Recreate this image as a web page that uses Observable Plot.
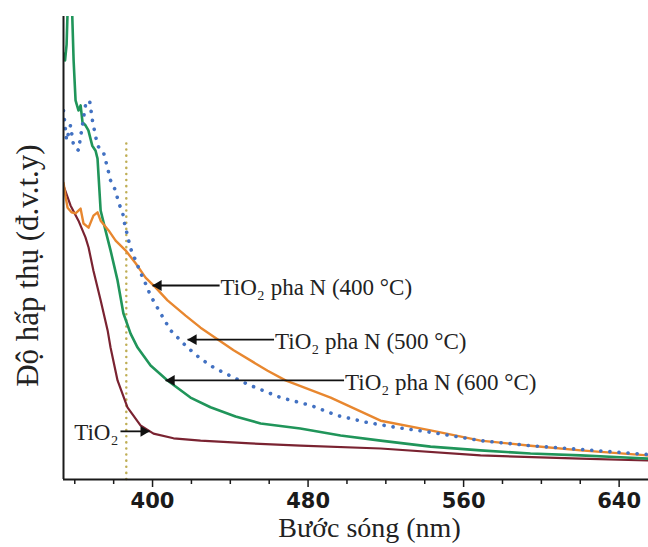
<!DOCTYPE html>
<html>
<head>
<meta charset="utf-8">
<script src="https://cdn.jsdelivr.net/npm/d3@7"></script>
<script src="https://cdn.jsdelivr.net/npm/@observablehq/plot@0.6"></script>
<style>
  html, body { margin: 0; padding: 0; background: #fff; }
  #chart svg { display: block; }
</style>
</head>
<body>
<div id="chart"></div>
<script>
// Wavelength (nm) / absorbance (arbitrary units, 0–100)
const green600 = [
  [354.3, 92], [355, 90.5], [355.8, 94], [356.5, 104], [357.5, 110], [358.5, 103],
  [359.4, 90.5], [360.4, 81.9], [361.9, 79.7], [363, 80.8], [364, 77.1], [365.5, 76.5],
  [367, 75.4], [369, 72.1], [370.7, 71], [371.7, 69.3], [373.3, 58.1], [375.8, 53.8],
  [378.4, 49.5], [382, 43], [385, 35.9], [388.7, 31.5], [392.3, 28.5], [399, 24.6],
  [407.7, 21.4], [419.5, 17.7], [429.8, 15.6], [442.7, 13.6], [455.6, 12.1], [476, 11],
  [496.7, 9.5], [517.3, 8.4], [543, 7.1], [568.7, 6.3], [594.4, 5.6], [620, 5.2],
  [640.7, 4.8], [655, 4.5]
];
const orange400 = [
  [354.2, 64.1], [355.2, 61.3], [356.3, 58.7], [358.3, 57.7], [360.4, 57.5], [363, 58.5],
  [364.5, 55.3], [367.1, 54.4], [369.6, 57], [371.7, 57.7], [373.3, 55.9], [377.4, 53.8],
  [381, 51.6], [386.1, 49.5], [391.3, 46.7], [396.4, 43.6], [401.5, 41.5], [407.7, 38.7],
  [417, 35.4], [424.7, 32.8], [441.7, 27.9], [459.2, 23.5], [468.4, 21.4], [491.6, 17.7],
  [517.3, 12.7], [543, 10.6], [568.7, 8.4], [594.4, 7.3], [620.2, 6.3], [654.6, 5.2]
];
const blue500 = [
  [354.2, 79.7], [355.8, 73.2], [357.8, 76.5], [359.4, 72.1], [361.9, 71.1], [365.5, 80.8],
  [367.6, 81.9], [369.1, 77.5], [371.7, 72.1], [374.8, 70.6], [376.9, 67.2], [378.4, 64.6],
  [381, 62.4], [382.5, 59.8], [384.6, 57.7], [385.6, 55.3], [387.1, 52.7], [388.7, 49.9],
  [391.3, 47.3], [393.8, 44.7], [396.4, 42.3], [399, 39.7], [404.1, 35.9], [409.3, 32.2],
  [418, 28.5], [424.7, 26.1], [431.4, 24.2], [442.7, 21.8], [450.4, 20.3], [458.1, 19],
  [465.8, 17.7], [481.3, 16], [495.2, 13.8], [510.6, 12.3], [526, 11.2], [543, 10.2],
  [568.7, 8.4], [594.4, 7.3], [620.2, 6.5], [654.6, 5.4]
];
const red_TiO2 = [
  [354.2, 63.5], [357.8, 59.2], [361.9, 55.9], [365.5, 52.3], [367.1, 50.1], [369.6, 45.1],
  [373.3, 38.7], [376.9, 32.2], [378.4, 28.5], [382, 21.4], [387.1, 15.6], [393.8, 11.7],
  [400.5, 9.9], [410.8, 8.9], [424.7, 8.4], [450.4, 7.8], [476.1, 7.3], [517.3, 6.7],
  [568.7, 5.2], [620.2, 4.5], [654.6, 4.1]
];
const edgeLine = 386.5;             // vertical dotted marker (nm)
const edgeTop = 73;                 // top of the marker (a.u.)
const majorTicks = [400, 480, 560, 640];
const minorTicks = [360, 380, 420, 440, 460, 500, 520, 540, 580, 600, 620];

// annotations: label, label x (nm), y (a.u.), arrow tip x (nm)
const annLabels = ["TiO\u2082 pha N (400 °C)", "TiO\u2082 pha N (500 °C)", "TiO\u2082 pha N (600 °C)"];
const annTail = [434.5, 462.5, 498.5];
const annY = [41.9, 30.2, 21.4];
const annTip = [400, 418, 406.7];
const tioLabel = "TiO\u2082";
const tioTail = 383.5, tioTip = 398.5, tioY = 10.4;

const xLabel = "Bước sóng (nm)";
const yLabel = "Độ hấp thụ (đ.v.t.y)";

const xDomain = [354.2, 655.1];
const serif = "'Liberation Serif', 'Times New Roman', serif";

const ann = annLabels.map((t, i) => ({t, tail: annTail[i], y: annY[i], tip: annTip[i]}));

const chart = Plot.plot({
  width: 648,
  height: 547,
  marginLeft: 63,
  marginRight: 0,
  marginTop: 16,
  marginBottom: 68,
  style: {background: "#fff", overflow: "visible"},
  x: {domain: xDomain, axis: null},
  y: {domain: [0, 100], axis: null},
  marks: [
    // vertical dotted line
    Plot.ruleX([edgeLine], {y1: 0, y2: edgeTop, stroke: "#bfae55", strokeWidth: 2.5, strokeDasharray: "0.1 6", strokeLinecap: "round"}),
    Plot.line(red_TiO2, {x: d => d[0], y: d => d[1], stroke: "#7a2331", strokeWidth: 2.2, clip: true}),
    Plot.line(green600, {x: d => d[0], y: d => d[1], stroke: "#20955a", strokeWidth: 2.6, clip: true}),
    Plot.line(orange400, {x: d => d[0], y: d => d[1], stroke: "#e8872f", strokeWidth: 2.4, clip: true}),
    Plot.line(blue500, {x: d => d[0], y: d => d[1], stroke: "#4271c2", strokeWidth: 3.6, strokeDasharray: "0.1 9", strokeLinecap: "round", clip: true}),
    // axes lines
    Plot.ruleY([0], {stroke: "#1a1a1a", strokeWidth: 2}),
    Plot.ruleX([xDomain[0]], {y1: 0, y2: 100, stroke: "#1a1a1a", strokeWidth: 2}),
    Plot.axisX({ticks: majorTicks, tickSize: 8, tickPadding: 6, tickFormat: d => String(d), label: null,
      fontSize: 21, fontFamily: "'DejaVu Sans', sans-serif", fontWeight: "bold", stroke: "#1a1a1a", strokeWidth: 1.5, fill: "#1a1a1a"}),
    Plot.axisX({ticks: minorTicks, tickSize: 5, tickFormat: () => "", label: null, stroke: "#1a1a1a", strokeWidth: 1.5}),
    // annotations
    Plot.link(ann, {x1: "tail", x2: "tip", y1: "y", y2: "y", stroke: "#111", strokeWidth: 1.8}),
    Plot.dot(ann, {x: "tip", y: "y", symbol: "triangle", r: 4, fill: "#111", rotate: -90, dx: 6}),
    Plot.text(ann, {x: "tail", y: "y", text: "t", textAnchor: "start", dx: 1, dy: 2, fontSize: 23, fontFamily: serif, fill: "#222"}),
    Plot.link([0], {x1: tioTail, x2: tioTip, y1: tioY, y2: tioY, stroke: "#111", strokeWidth: 1.8}),
    Plot.dot([0], {x: tioTip, y: tioY, symbol: "triangle", r: 4, fill: "#111", rotate: 90, dx: -6}),
    Plot.text([0], {x: tioTail, y: tioY, text: () => tioLabel, textAnchor: "end", dx: -2, dy: 1, fontSize: 23, fontFamily: serif, fill: "#222"}),
    // axis titles
    Plot.text([0], {x: 511.6, frameAnchor: "bottom", dy: 57, text: () => xLabel, fontSize: 28, fontFamily: serif, fill: "#222"}),
    Plot.text([0], {y: 46.2, frameAnchor: "left", textAnchor: "middle", dx: -35, rotate: -90, text: () => yLabel, fontSize: 31, fontFamily: serif, fill: "#222"})
  ]
});
document.getElementById("chart").appendChild(chart);
</script>
</body>
</html>
